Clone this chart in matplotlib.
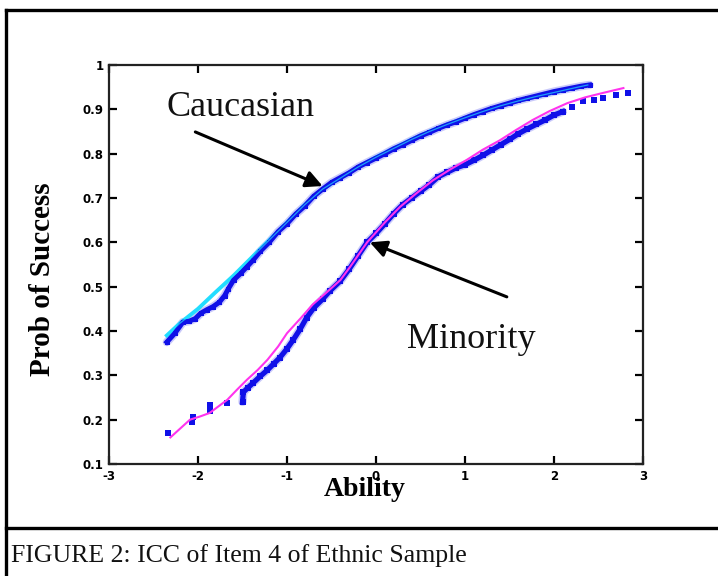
import matplotlib
matplotlib.use("Agg")
import matplotlib.pyplot as plt
import numpy as np

# ---- data ----
x_ticks = [-3, -2, -1, 0, 1, 2, 3]
x_tick_labels = ["-3", "-2", "-1", "0", "1", "2", "3"]
y_ticks = [0.1, 0.2, 0.3, 0.4, 0.5, 0.6, 0.7, 0.8, 0.9, 1.0]
y_tick_labels = ["0.1", "0.2", "0.3", "0.4", "0.5", "0.6", "0.7", "0.8", "0.9", "1"]

# Caucasian: fitted curve (cyan)
cau_fit_x = [-2.35, -2.2, -2.0, -1.8, -1.6, -1.4, -1.2, -1.0, -0.8, -0.6, -0.4, -0.2,
             0.0, 0.2, 0.4, 0.6, 0.8, 1.0, 1.2, 1.4, 1.6, 1.8, 2.0, 2.2, 2.38]
cau_fit_y = [0.39, 0.418, 0.45, 0.488, 0.525, 0.565, 0.605, 0.645, 0.685, 0.72, 0.745, 0.77,
             0.792, 0.812, 0.832, 0.85, 0.866, 0.881, 0.895, 0.908, 0.919, 0.929, 0.938, 0.947, 0.955]

# Caucasian: empirical (blue)
cau_emp_x = [-2.35, -2.26, -2.17, -2.1, -2.03, -1.97, -1.9, -1.83, -1.76, -1.7, -1.66, -1.6,
             -1.52, -1.45, -1.38, -1.3, -1.2, -1.1, -1.0, -0.9, -0.8, -0.7, -0.6, -0.5, -0.4,
             -0.3, -0.2, -0.1, 0.0, 0.1, 0.2, 0.3, 0.4, 0.5, 0.6, 0.7, 0.8, 0.9, 1.0, 1.1,
             1.2, 1.3, 1.4, 1.5, 1.6, 1.7, 1.8, 1.9, 2.0, 2.1, 2.2, 2.3, 2.4]
cau_emp_y = [0.375, 0.395, 0.42, 0.422, 0.428, 0.44, 0.448, 0.455, 0.465, 0.48, 0.495, 0.515,
             0.53, 0.545, 0.56, 0.58, 0.60, 0.624, 0.642, 0.664, 0.682, 0.704, 0.72, 0.735, 0.746,
             0.757, 0.77, 0.78, 0.79, 0.80, 0.811, 0.82, 0.83, 0.84, 0.848, 0.857, 0.865, 0.872,
             0.88, 0.888, 0.895, 0.902, 0.908, 0.914, 0.92, 0.925, 0.93, 0.935, 0.94, 0.944,
             0.948, 0.952, 0.955]

# Minority: fitted curve (magenta)
min_fit_x = [-2.31, -2.2, -2.09, -1.98, -1.87, -1.77, -1.67, -1.56, -1.45, -1.33, -1.22, -1.1,
             -1.0, -0.85, -0.71, -0.55, -0.4, -0.29, -0.1, 0.1, 0.27, 0.45, 0.64, 0.83, 1.02,
             1.2, 1.39, 1.57, 1.76, 1.95, 2.15, 2.35, 2.55, 2.78]
min_fit_y = [0.16, 0.18, 0.20, 0.207, 0.215, 0.23, 0.245, 0.268, 0.29, 0.312, 0.335, 0.365,
             0.395, 0.428, 0.46, 0.488, 0.515, 0.545, 0.60, 0.645, 0.68, 0.71, 0.74, 0.764, 0.786,
             0.809, 0.83, 0.853, 0.876, 0.896, 0.914, 0.927, 0.937, 0.948]

# Minority: empirical (blue) - isolated points at the low end
min_sc_x = [-2.34, -2.07, -2.06, -1.87, -1.87, -1.67]
min_sc_y = [0.17, 0.195, 0.205, 0.233, 0.22, 0.238]
# Minority: empirical (blue) - dense part
min_emp_x = [-1.5, -1.49, -1.44, -1.38, -1.3, -1.22, -1.15, -1.08, -1.0, -0.93, -0.85, -0.78,
             -0.7, -0.6, -0.52, -0.4, -0.3, -0.2, -0.1, 0.0, 0.1, 0.2, 0.3, 0.4, 0.5, 0.6,
             0.7, 0.8, 0.9, 1.0, 1.1, 1.2, 1.3, 1.4, 1.5, 1.6, 1.7, 1.8, 1.9, 2.0, 2.1]
min_emp_y = [0.24, 0.262, 0.272, 0.283, 0.298, 0.312, 0.326, 0.34, 0.36, 0.38, 0.405, 0.43,
             0.452, 0.472, 0.49, 0.513, 0.54, 0.57, 0.60, 0.62, 0.642, 0.665, 0.685, 0.70, 0.715,
             0.73, 0.748, 0.758, 0.768, 0.775, 0.785, 0.796, 0.808, 0.82, 0.832, 0.845, 0.856,
             0.866, 0.876, 0.887, 0.895]
# Minority: empirical (blue) - sparse dashes at the high end
min_tail_x = [2.2, 2.33, 2.45, 2.55, 2.7, 2.83]
min_tail_y = [0.905, 0.918, 0.921, 0.925, 0.933, 0.937]

# ---- figure ----
W, H = 718, 576
fig = plt.figure(figsize=(W / 100, H / 100), dpi=100)

def fx(px):
    return px / W

def fy(py):
    return 1 - py / H

# outer frame lines
fig.add_artist(plt.Line2D([fx(6), 1.0], [fy(10), fy(10)], color="black", lw=2.4))
fig.add_artist(plt.Line2D([fx(6), fx(6)], [fy(10), 0.0], color="black", lw=2.4))
fig.add_artist(plt.Line2D([fx(6), 1.0], [fy(528), fy(528)], color="black", lw=2.4))

ax = fig.add_axes([fx(109), fy(464), fx(643) - fx(109), fy(65) - fy(464)])
ax.set_xlim(-3, 3)
ax.set_ylim(0.1, 1.0)

blue = "#1010e8"
halo = "#8a8af5"
cyan = "#22ddff"
mag = "#ff33ee"

# Caucasian
ax.plot(cau_emp_x, cau_emp_y, color=halo, lw=6.0, alpha=0.45, zorder=1,
        solid_capstyle="round")
ax.plot(cau_fit_x, cau_fit_y, color=cyan, lw=2.8, zorder=2)
ax.plot(cau_emp_x, cau_emp_y, color=blue, lw=3.6, marker="s", ms=3.6,
        markeredgewidth=0, zorder=3)
ax.plot(cau_fit_x, cau_fit_y, color=cyan, lw=0.9, alpha=0.7, zorder=4)

# Minority
ax.plot(min_emp_x, min_emp_y, color=halo, lw=6.0, alpha=0.45, zorder=1,
        solid_capstyle="round")
ax.plot(min_emp_x, min_emp_y, color=blue, lw=3.8, marker="s", ms=3.8,
        markeredgewidth=0, zorder=3)
ax.plot(min_sc_x, min_sc_y, ls="none", color=blue, marker="s", ms=4.2,
        markeredgewidth=0, zorder=3)
ax.plot(min_tail_x, min_tail_y, ls="none", color=blue, marker="s", ms=4.6,
        markeredgewidth=0, zorder=3)
ax.plot(min_fit_x, min_fit_y, color=mag, lw=1.5, zorder=4)

# annotations
ax.annotate("", xy=(-0.6, 0.727), xytext=(-2.03, 0.849),
            arrowprops=dict(arrowstyle="-|>,head_length=1.0,head_width=0.5",
                            color="black", lw=2.2, shrinkA=0, shrinkB=0), zorder=5)
ax.annotate("", xy=(-0.07, 0.60), xytext=(1.47, 0.477),
            arrowprops=dict(arrowstyle="-|>,head_length=1.0,head_width=0.5",
                            color="black", lw=2.2, shrinkA=0, shrinkB=0), zorder=5)
ax.text(-1.52, 0.905, "Caucasian", family="Liberation Serif", fontsize=26,
        ha="center", va="center", color="#111111")
ax.text(1.07, 0.38, "Minority", family="Liberation Serif", fontsize=26,
        ha="center", va="center", color="#111111")

# axes styling
for s in ax.spines.values():
    s.set_linewidth(1.6)
    s.set_color("#222222")
ax.set_xticks(x_ticks)
ax.set_xticklabels(x_tick_labels)
ax.set_yticks(y_ticks)
ax.set_yticklabels(y_tick_labels)
ax.tick_params(direction="in", length=6, width=1.6, top=True, right=True,
               labelsize=8.5, pad=4)
for lab in ax.get_xticklabels() + ax.get_yticklabels():
    lab.set_fontweight("bold")

fig.text(fx(43), fy(279), "Prob of Success", family="Liberation Serif",
         fontweight="bold", fontsize=21, rotation=90, ha="center", va="center")
fig.text(fx(365), fy(490), "Ability", family="Liberation Serif",
         fontweight="bold", fontsize=20, ha="center", va="center")
fig.text(fx(11), fy(556), "FIGURE 2: ICC of Item 4 of Ethnic Sample",
         family="Liberation Serif", fontsize=18.5, ha="left", va="center",
         color="#111111")

fig.savefig("out.png", dpi=100)
